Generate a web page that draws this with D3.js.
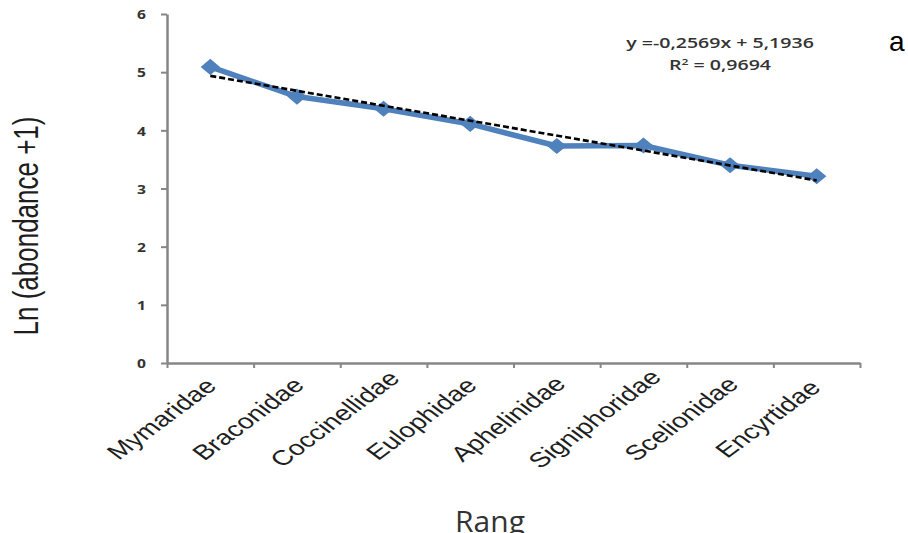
<!DOCTYPE html>
<html>
<head>
<meta charset="utf-8">
<script src="https://cdn.jsdelivr.net/npm/d3@7"></script>
<style>
  html, body { margin: 0; padding: 0; background: #fff; }
  svg { display: block; }
</style>
</head>
<body>
<svg id="chart" width="908" height="533"></svg>
<script>
// Families ranked by abundance, with ln(abundance + 1)
const categories = ["Mymaridae", "Braconidae", "Coccinellidae", "Eulophidae",
                    "Aphelinidae", "Signiphoridae", "Scelionidae", "Encyrtidae"];
const lnAbundance = [5.09, 4.58, 4.37, 4.11, 3.73, 3.74, 3.40, 3.21];

// Linear trend fitted on rank (1..8)
const trendSlope = [-0.2569];
const trendIntercept = [5.1936];
const trendR2 = [0.9694];

const yTicks = [0, 1, 2, 3, 4, 5, 6];

const fmt = v => String(v).replace(".", ",");

const svg = d3.select("#chart");
const margin = { left: 167, right: 48, top: 14, bottom: 170 };
const W = 908, H = 533;
const x0 = margin.left, x1 = W - margin.right;
const yTop = margin.top, yBot = H - margin.bottom;

const sx = 1.35; // horizontal text stretch

const x = d3.scaleBand().domain(categories).range([x0, x1]).padding(0);
const xEdges = d3.scaleLinear().domain([0, categories.length]).range([x0, x1]);
const y = d3.scaleLinear().domain([0, 6]).range([yBot, yTop]);

const axisColor = "#868686";

// Y axis
const yAxis = svg.append("g")
  .attr("transform", `translate(${x0},0)`)
  .call(d3.axisLeft(y).tickValues(yTicks).tickSize(6).tickSizeOuter(0).tickFormat(d3.format("d")));
yAxis.select(".domain").attr("stroke", axisColor).attr("stroke-width", 2.5);
yAxis.selectAll(".tick line").attr("stroke", axisColor).attr("stroke-width", 2);
yAxis.selectAll(".tick text")
  .attr("x", -21 / 1.2)
  .attr("dy", "0.36em")
  .attr("transform", "scale(1.2,1)")
  .attr("fill", "#333")
  .style("font-family", "'Open Sans', sans-serif")
  .style("font-weight", 700)
  .style("font-size", "13px");

// X axis: ticks between categories
const xAxis = svg.append("g")
  .attr("transform", `translate(0,${yBot})`)
  .call(d3.axisBottom(xEdges).tickValues(d3.range(0, categories.length + 1)).tickSize(5).tickSizeOuter(0).tickFormat(""));
xAxis.select(".domain").attr("stroke", axisColor).attr("stroke-width", 2.5);
xAxis.selectAll(".tick line").attr("stroke", axisColor).attr("stroke-width", 2);

// Category labels, rotated and centred under each category
svg.append("g").selectAll("text")
  .data(categories)
  .join("text")
  .attr("transform", d => `translate(${x(d) + x.bandwidth() / 2 - 42},${yBot + 61}) scale(${sx},1) rotate(-45)`)
  .attr("text-anchor", "middle")
  .attr("fill", "#1e1e1e")
  .style("font-family", "'Liberation Sans', Arial, sans-serif")
  .style("font-size", "21px")
  .text(d => d);

// Data line
const cx = d => x(d) + x.bandwidth() / 2;
const pts = categories.map((c, i) => ({ c, v: lnAbundance[i] }));

svg.append("path")
  .datum(pts)
  .attr("fill", "none")
  .attr("stroke", "#4F81BD")
  .attr("stroke-width", 5.5)
  .attr("stroke-linejoin", "round")
  .attr("d", d3.line().x(d => cx(d.c)).y(d => y(d.v)));

svg.append("g").selectAll("path")
  .data(pts)
  .join("path")
  .attr("transform", d => `translate(${cx(d.c)},${y(d.v)}) scale(1.2,1) rotate(45)`)
  .attr("d", d3.symbol().type(d3.symbolSquare).size(130))
  .attr("fill", "#4F81BD");

// Trend line from the fitted equation
const rankToX = r => cx(categories[r - 1]);
const trendPts = [1, categories.length].map(r => ({ r, v: trendSlope[0] * r + trendIntercept[0] }));
svg.append("path")
  .datum(trendPts)
  .attr("fill", "none")
  .attr("stroke", "#000")
  .attr("stroke-width", 2.6)
  .attr("stroke-dasharray", "6,3")
  .attr("d", d3.line().x(d => rankToX(d.r)).y(d => y(d.v)));

// Equation and R²
const eq = svg.append("g")
  .attr("transform", `translate(720,0) scale(${sx},1)`)
  .attr("fill", "#333")
  .style("font-family", "'Open Sans', sans-serif")
  .style("font-weight", 600)
  .style("font-size", "14.5px")
  .attr("text-anchor", "middle");
eq.append("text")
  .attr("y", 48)
  .text(`y =${fmt(trendSlope[0])}x + ${fmt(trendIntercept[0])}`);
const r2 = eq.append("text").attr("y", 70);
r2.append("tspan").text("R");
r2.append("tspan").attr("dy", -5).style("font-size", "9px").text("2");
r2.append("tspan").attr("dy", 5).text(` = ${fmt(trendR2[0])}`);

// Axis titles
svg.append("text")
  .attr("transform", `translate(38,226) scale(${sx},1) rotate(-90)`)
  .attr("text-anchor", "middle")
  .attr("fill", "#1e1e1e")
  .style("font-family", "'Liberation Sans', Arial, sans-serif")
  .style("font-size", "26px")
  .text("Ln (abondance +1)");

svg.append("text")
  .attr("transform", "translate(490,532)")
  .attr("text-anchor", "middle")
  .attr("fill", "#333")
  .style("font-family", "'Open Sans', sans-serif")
  .style("font-size", "30px")
  .text("Rang");

// Panel letter
svg.append("text")
  .attr("x", 889)
  .attr("y", 51)
  .attr("fill", "#000")
  .style("font-family", "'Liberation Sans', Arial, sans-serif")
  .style("font-size", "28px")
  .text("a");
</script>
</body>
</html>
